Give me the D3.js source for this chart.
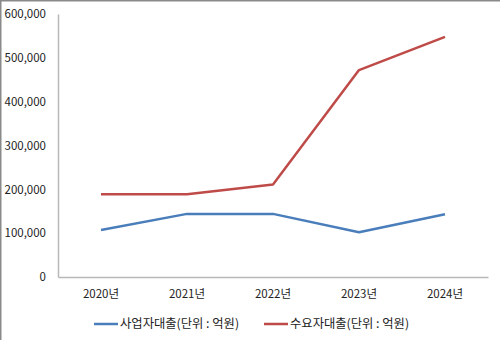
<!DOCTYPE html>
<html>
<head>
<meta charset="utf-8">
<script src="https://cdn.jsdelivr.net/npm/d3@7"></script>
<style>
  html, body { margin: 0; padding: 0; background: #fff; }
  svg { display: block; }
  text { font-family: "Noto Sans CJK KR", "Noto Sans", sans-serif; fill: #222; }
</style>
</head>
<body>
<svg id="chart" width="500" height="340"></svg>
<script>
// Loan balances by year (unit: 억원)
const years = ["2020년", "2021년", "2022년", "2023년", "2024년"];
const businessLoans = [107000, 144000, 144000, 102000, 143000];
const consumerLoans = [189000, 189000, 211000, 472000, 548000];
const seriesNames = ["사업자대출(단위 : 억원)", "수요자대출(단위 : 억원)"];
const seriesColors = ["#4A7EBB", "#BE4B48"];
const yTicks = [0, 100000, 200000, 300000, 400000, 500000, 600000];

const svg = d3.select("#chart");
const W = 500, H = 340;

// outer frame (top and left edges)
svg.append("line").attr("x1", 0).attr("x2", W).attr("y1", 0.75).attr("y2", 0.75)
  .attr("stroke", "#8a8a8a").attr("stroke-width", 1.5);
svg.append("line").attr("x1", 0.75).attr("x2", 0.75).attr("y1", 0).attr("y2", H)
  .attr("stroke", "#8a8a8a").attr("stroke-width", 1.5);

const plot = { left: 58, right: 488, top: 14, bottom: 277 };

const x = d3.scaleBand().domain(years).range([plot.left, plot.right]);
const y = d3.scaleLinear().domain([0, 600000]).range([plot.bottom, plot.top]);

// y axis
const yAxis = svg.append("g")
  .attr("transform", `translate(${plot.left},0)`)
  .call(d3.axisLeft(y).tickValues(yTicks).tickSize(0).tickPadding(12)
    .tickFormat(d3.format(",")));
yAxis.select(".domain").attr("stroke", "#b8b8b8").attr("stroke-width", 1.5);
yAxis.selectAll("text").style("font-size", "11.5px").attr("fill", "#222");

// x axis
const xAxis = svg.append("g")
  .attr("transform", `translate(0,${plot.bottom})`)
  .call(d3.axisBottom(x).tickSize(0).tickPadding(13));
xAxis.select(".domain").attr("stroke", "#b8b8b8").attr("stroke-width", 1.5);
xAxis.selectAll("text").style("font-size", "11.5px").attr("fill", "#222");

// series lines
const line = d3.line()
  .x((d, i) => x(years[i]) + x.bandwidth() / 2)
  .y(d => y(d));

[businessLoans, consumerLoans].forEach((vals, k) => {
  svg.append("path")
    .datum(vals)
    .attr("d", line)
    .attr("fill", "none")
    .attr("stroke", seriesColors[k])
    .attr("stroke-width", 2.5)
    .attr("stroke-linejoin", "round");
});

// legend
const legendX = [94, 264];
const legendY = 324;
seriesNames.forEach((name, k) => {
  const g = svg.append("g").attr("transform", `translate(${legendX[k]},${legendY})`);
  g.append("line").attr("x1", 0).attr("x2", 24).attr("y1", 0).attr("y2", 0)
    .attr("stroke", seriesColors[k]).attr("stroke-width", 2.5);
  g.append("text").attr("x", 26).attr("y", 0).attr("dy", "0.35em")
    .style("font-size", "12.3px").text(name);
});
</script>
</body>
</html>
